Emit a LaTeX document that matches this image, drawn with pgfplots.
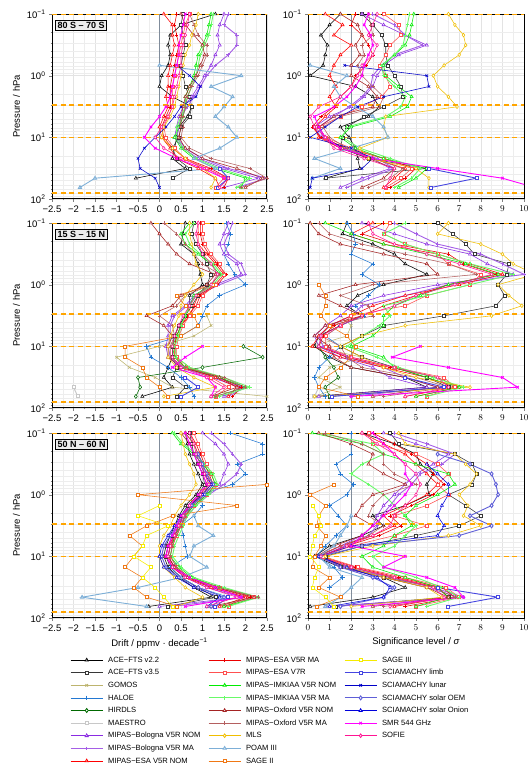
\documentclass[border=0pt]{standalone}
\usepackage{fontspec}
\setmainfont{Liberation Sans}
\usepackage{pgfplots}
\usepackage{pgfplotstable}
\pgfplotsset{compat=1.18}

\definecolor{cAceB}{RGB}{55,55,55}
\definecolor{cGomos}{RGB}{189,180,110}
\definecolor{cHaloe}{RGB}{35,120,210}
\definecolor{cHirdls}{RGB}{0,105,0}
\definecolor{cMaestro}{RGB}{200,200,200}
\definecolor{cBolN}{RGB}{138,43,226}
\definecolor{cBolM}{RGB}{165,95,230}
\definecolor{cEsaN}{RGB}{255,0,0}
\definecolor{cEsaM}{RGB}{235,0,0}
\definecolor{cEsa7}{RGB}{255,80,80}
\definecolor{cImkN}{RGB}{0,235,0}
\definecolor{cImkM}{RGB}{105,250,105}
\definecolor{cOxN}{RGB}{165,35,35}
\definecolor{cOxM}{RGB}{180,95,95}
\definecolor{cMls}{RGB}{240,190,0}
\definecolor{cPoam}{RGB}{125,175,215}
\definecolor{cSage2}{RGB}{240,120,20}
\definecolor{cSage3}{RGB}{245,235,0}
\definecolor{cLimb}{RGB}{70,70,225}
\definecolor{cLunar}{RGB}{0,0,200}
\definecolor{cOem}{RGB}{95,95,215}
\definecolor{cOnion}{RGB}{0,0,220}
\definecolor{cSmr}{RGB}{255,0,255}
\definecolor{cSofie}{RGB}{255,20,147}
\definecolor{cRef}{RGB}{255,165,0}
\definecolor{cZero}{RGB}{128,140,155}

% pressure levels (hPa) in the header, one row per data set
\pgfplotstableread{
name  0.1 0.15 0.22 0.32 0.46 0.68 1.0 1.5 2.2 3.2 4.6 6.8 10 15 22 32 46 65
ace22 1.3 0.5 0.25 0.2 0.25 0.2 0.05 0.0 0.3 0.75 0.65 0.45 0.4 0.35 0.3 0.6 -0.55 nan
ace35 0.55 0.5 0.55 0.6 0.55 0.5 0.55 0.6 0.7 0.75 0.7 0.5 0.45 0.3 0.4 0.7 0.3 nan
boln  1.5 1.4 1.35 1.4 1.3 1.2 1.05 0.9 0.75 0.55 0.45 0.4 0.35 0.55 0.9 1.5 2.3 1.5
bolm  1.6 1.5 1.8 1.8 1.6 1.3 1.1 0.95 0.8 0.65 0.5 0.45 0.4 0.6 1.0 1.6 2.5 1.8
esan  0.1 0.3 0.3 0.35 0.3 0.25 0.2 0.2 0.15 0.2 0.1 0.0 0.05 0.25 0.4 0.9 1.3 1.4
esam  0.4 0.35 0.4 0.45 0.4 0.35 0.3 0.25 0.25 0.25 0.15 0.05 0.1 0.3 0.6 1.2 1.6 1.5
esa7  0.7 0.6 0.55 0.5 0.45 0.4 0.35 0.3 0.3 0.3 0.2 0.1 0.15 0.35 0.6 1.1 1.5 1.3
imkn  1.2 1.15 1.1 1.0 0.9 0.85 0.8 0.7 0.6 0.6 0.55 0.45 0.35 0.5 0.8 1.3 2.0 1.9
imkm  1.25 1.2 1.15 1.05 0.95 0.9 0.85 0.75 0.65 0.6 0.5 0.4 0.4 0.55 0.85 1.4 2.1 1.8
oxn   0.5 0.6 0.8 1.0 1.05 0.95 0.85 0.7 0.6 0.55 0.5 0.5 0.45 0.6 1.0 1.8 2.4 2.0
oxm   0.7 0.8 0.9 1.1 1.1 1.0 0.9 0.75 0.65 0.6 0.55 0.55 0.5 0.7 1.2 2.1 2.5 1.9
mls   0.9 0.85 0.75 0.7 0.6 0.55 0.5 0.45 0.4 0.35 0.25 0.1 0.05 0.3 0.6 1.0 1.3 1.2
poam  nan nan nan nan nan 0.0 1.9 1.2 1.7 1.5 1.3 1.6 1.8 1.4 0.8 1.3 -1.5 -1.85
limb  nan nan nan nan nan nan nan nan nan nan nan nan nan nan nan 1.4 1.6 1.35
lunar nan nan nan nan nan 0.4 0.7 0.95 0.85 0.5 0.35 0.15 -0.1 -0.35 -0.5 -0.45 -0.1 0.0
smr   0.6 0.55 0.5 0.45 0.45 0.4 0.35 0.3 0.25 0.15 0.0 -0.2 -0.35 -0.1 0.4 1.0 1.5 nan
sofie 0.7 0.65 0.6 0.55 0.5 0.5 0.45 0.4 0.35 0.3 0.2 0.05 -0.1 0.1 0.5 1.1 1.6 1.4
}\rawA

\pgfplotstableread{
name  0.1 0.15 0.22 0.32 0.46 0.68 1.0 1.5 2.2 3.2 4.6 6.8 10 15 22 32 46 65
ace22 1.5 1.0 0.6 0.9 0.8 0.7 0.1 2.2 3.0 3.3 2.8 1.5 1.9 2.2 2.3 2.4 0.8 nan
ace35 2.5 3.0 3.4 3.6 3.6 3.7 4.0 4.3 4.4 3.5 2.6 1.8 1.6 1.5 2.8 5.5 0.8 nan
boln  2.5 3.5 4.5 5.5 4.2 3.5 3.2 3.0 2.6 2.0 1.0 0.3 0.6 1.5 3.0 3.8 2.5 1.5
bolm  3.0 4.0 4.5 5.3 4.0 3.4 3.0 2.9 2.5 1.9 1.2 0.5 0.7 1.6 3.2 4.0 2.8 1.8
esan  0.8 1.6 1.2 2.0 1.5 1.2 1.0 1.3 1.0 1.3 0.8 0.3 0.5 1.5 3.0 4.5 4.0 3.5
esam  2.2 2.0 2.5 2.8 3.0 2.7 2.2 2.0 1.5 1.2 0.6 0.2 0.6 1.8 3.5 5.0 4.5 3.8
esa7  3.5 4.2 4.3 3.8 3.6 3.3 3.6 3.8 3.4 2.5 1.5 0.5 0.8 2.0 3.5 4.8 4.3 3.6
imkn  4.9 4.8 4.7 4.5 4.0 3.5 3.6 4.2 4.8 4.6 3.8 2.0 1.5 2.2 3.5 5.5 5.0 4.2
imkm  4.7 4.6 4.5 4.4 4.0 3.4 3.5 4.0 4.5 4.3 3.6 1.8 1.6 2.4 3.8 5.2 4.8 4.0
oxn   1.5 2.3 2.5 2.2 2.4 2.0 2.0 2.8 3.2 3.0 1.2 0.5 0.8 1.6 2.8 4.0 3.5 2.5
oxm   2.8 2.9 3.0 2.5 2.6 2.3 2.5 3.0 3.5 3.3 1.5 0.7 1.0 1.8 3.0 4.4 3.8 2.8
mls   6.5 6.8 7.2 7.3 7.0 6.3 5.8 6.0 6.5 6.9 3.6 3.5 3.7 2.4 2.8 5.0 5.6 5.6
poam  nan nan nan nan nan 0.1 1.8 1.2 1.5 2.2 3.0 3.5 3.7 2.0 0.3 1.5 0.2 nan
limb  nan nan nan nan nan nan nan nan nan nan nan nan nan nan nan 5.6 7.8 5.7
lunar nan nan nan nan nan 1.7 5.5 5.6 3.5 2.3 1.5 0.8 0.1 2.0 3.0 2.5 0.2 0.1
smr   2.8 2.6 2.9 3.0 2.8 2.6 2.5 2.2 1.8 1.2 0.3 0.5 0.8 1.5 3.0 6.0 9.0 10.5
sofie 3.2 3.0 2.8 3.2 3.0 2.5 2.3 2.0 1.5 0.5 0.1 0.3 0.8 1.2 2.6 4.0 3.8 3.6
}\rawB

\pgfplotstableread{
name  0.1 0.15 0.22 0.32 0.46 0.68 1.0 1.5 2.2 3.2 4.6 6.8 10 15 22 32 46 65
ace22 0.6 0.55 0.5 0.8 0.9 0.95 1.0 0.7 0.7 0.6 0.45 0.35 0.3 0.3 0.2 0.1 0.3 -0.4
ace35 0.8 0.75 0.85 1.0 1.1 1.2 1.1 0.9 0.75 0.6 0.45 0.35 0.3 0.3 0.4 0.3 0.6 0.4
gomos nan nan nan nan nan nan nan nan nan 1.1 1.2 0.8 0.0 -1.0 -0.7 -0.1 0.3 2.5
haloe 1.55 1.65 1.6 1.5 1.6 1.75 2.0 1.4 1.1 1.0 0.9 0.5 -0.3 -0.2 0.2 0.5 0.7 0.8
hirdls nan nan nan nan nan nan nan nan nan nan nan nan 1.95 2.4 1.0 -0.5 -0.45 -0.55
maestro nan nan nan nan nan nan nan nan nan nan nan nan nan nan nan nan -2.0 -1.9
boln  1.6 1.5 1.4 1.5 1.8 1.9 1.3 0.8 0.6 0.3 0.2 0.2 0.15 0.2 0.5 1.2 1.9 1.5
bolm  1.7 1.6 1.5 1.6 1.9 2.0 1.4 0.85 0.65 0.35 0.25 0.25 0.2 0.25 0.55 1.3 2.0 1.6
esan  0.9 0.9 0.9 1.1 1.3 1.5 1.3 0.9 0.8 0.7 0.5 0.4 0.35 0.35 0.6 1.3 1.8 1.6
esam  0.95 0.95 1.0 1.15 1.35 1.55 1.35 0.95 0.85 0.65 0.5 0.4 0.35 0.4 0.7 1.4 1.9 1.7
esa7  1.0 1.0 1.05 1.2 1.4 1.5 1.3 1.0 0.9 0.7 0.55 0.45 0.4 0.4 0.6 1.2 1.6 1.3
imkn  0.7 0.5 0.6 0.9 1.2 1.4 1.2 0.8 0.7 0.6 0.5 0.4 0.3 0.35 0.6 1.4 2.0 1.3
imkm  0.8 0.6 0.7 0.95 1.25 1.45 1.25 0.85 0.7 0.6 0.5 0.45 0.35 0.4 0.7 1.5 2.1 1.4
oxn   -0.2 0.0 0.2 0.4 0.7 1.3 1.1 0.5 0.3 -0.3 0.1 0.3 0.2 0.2 0.5 1.4 1.8 1.2
oxm   0.1 0.4 0.6 0.8 1.0 1.4 1.2 0.6 0.4 0.0 0.3 0.35 0.25 0.25 0.6 1.5 2.0 1.3
mls   0.7 0.7 0.75 0.8 0.85 1.0 0.8 0.6 0.5 0.45 0.35 0.25 0.2 0.2 0.4 0.8 1.3 0.1
sage2 nan nan nan nan nan nan 1.25 0.4 0.6 0.8 0.9 0.5 -0.8 -0.8 -0.4 -0.3 0.0 0.2
limb  nan nan nan nan nan nan nan nan nan nan nan nan nan nan nan 0.6 0.9 0.5
smr   nan nan nan nan nan nan nan nan nan nan nan nan 1.0 0.6 0.3 1.1 1.3 1.2
sofie 0.9 0.85 0.9 1.0 1.2 1.35 1.2 0.85 0.7 0.55 0.45 0.35 0.3 0.3 0.5 1.1 1.5 1.2
}\rawC

\pgfplotstableread{
name  0.1 0.15 0.22 0.32 0.46 0.68 1.0 1.5 2.2 3.2 4.6 6.8 10 15 22 32 46 65
ace22 1.8 1.6 3.0 4.0 4.5 5.5 3.5 2.3 1.8 2.5 1.5 0.5 0.3 1.0 2.0 4.5 5.5 0.3
ace35 6.0 6.7 7.3 7.7 9.3 9.2 8.8 9.1 8.7 6.3 3.5 2.5 1.5 2.5 4.0 5.5 6.5 1.0
gomos nan nan nan nan nan nan nan nan nan 1.5 2.0 1.8 0.2 2.5 1.0 0.5 1.5 0.3
haloe 1.8 2.1 2.2 2.0 3.0 2.5 3.3 2.8 2.2 2.6 1.5 0.8 1.5 1.0 0.5 0.3 0.5 0.8
hirdls nan nan nan nan nan nan nan nan nan nan nan nan 0.5 0.8 1.2 1.4 0.8 1.0
maestro nan nan nan nan nan nan nan nan nan nan nan nan nan nan nan nan 0.5 0.3
boln  2.5 4.0 5.5 7.5 8.3 9.5 6.0 3.5 2.0 1.5 0.8 0.3 0.5 1.5 3.0 3.8 5.5 0.5
bolm  4.0 5.0 6.0 8.0 9.0 10.0 6.5 4.5 2.5 2.0 1.0 0.5 0.7 1.8 3.5 4.5 6.0 2.0
esan  3.0 2.0 3.5 6.0 7.5 9.0 7.0 4.5 3.0 2.0 1.0 0.5 0.2 1.5 3.5 5.5 6.8 4.5
esam  3.5 2.5 4.0 6.5 7.2 8.7 6.5 5.0 3.5 2.5 1.2 0.7 0.5 1.8 3.8 6.0 7.0 5.0
esa7  3.8 3.5 4.5 6.0 6.5 8.0 7.5 5.5 4.5 2.0 1.5 0.8 0.8 2.0 4.0 6.3 6.8 5.5
imkn  0.8 2.0 3.5 5.5 7.3 8.8 6.5 5.2 4.0 3.5 3.5 3.0 2.0 3.5 4.0 5.5 7.0 5.0
imkm  4.5 3.5 4.5 6.0 7.5 9.5 7.5 5.5 3.5 3.8 3.3 2.5 1.8 3.2 4.2 5.8 7.2 5.5
oxn   0.1 0.5 1.5 3.5 5.5 6.0 2.2 0.5 1.5 2.5 0.8 0.3 1.0 1.2 2.0 4.5 6.0 3.0
oxm   0.5 1.0 2.5 4.5 6.5 7.8 3.0 1.5 2.8 3.0 1.0 0.6 1.5 1.8 2.5 5.0 6.5 3.5
mls   6.5 6.0 8.0 9.0 9.5 10.5 8.8 9.3 9.9 8.5 4.5 2.5 1.5 2.5 3.5 5.0 7.5 0.3
sage2 nan nan nan nan nan nan 0.5 0.8 0.8 0.6 1.0 1.8 2.2 2.0 1.5 0.8 0.5 2.3
limb  nan nan nan nan nan nan nan nan nan nan nan nan nan nan nan 4.5 6.3 1.1
smr   nan nan nan nan nan nan nan nan nan nan nan nan 5.2 3.9 6.5 9.0 9.7 2.0
sofie 2.8 3.0 4.0 5.5 7.0 8.5 6.8 5.0 4.0 2.5 1.5 0.6 0.5 2.0 4.0 6.0 6.5 4.5
}\rawD

\pgfplotstableread{
name  0.1 0.15 0.22 0.32 0.46 0.68 1.0 1.5 2.2 3.2 4.6 6.8 10 15 22 32 46 65
ace22 0.6 0.65 0.7 0.8 0.9 1.0 0.85 0.6 0.45 0.35 0.25 0.15 0.1 0.2 0.45 0.8 1.2 -0.25
ace35 0.7 0.75 0.8 0.9 1.0 1.05 0.9 0.65 0.5 0.4 0.3 0.2 0.15 0.25 0.5 0.9 1.3 0.2
haloe 1.65 2.4 2.4 1.8 2.0 1.7 0.95 1.0 0.8 0.5 0.55 0.6 0.65 0.25 0.5 0.9 1.6 nan
boln  1.0 1.3 1.5 1.6 1.5 1.4 1.1 0.8 0.6 0.45 0.3 0.2 0.15 0.3 0.6 1.1 1.9 0.0
bolm  1.2 1.5 1.7 1.9 1.8 1.5 1.15 0.85 0.65 0.5 0.35 0.25 0.2 0.35 0.7 1.2 2.0 0.3
esan  0.6 0.8 0.9 1.0 1.1 1.2 1.0 0.7 0.55 0.45 0.35 0.2 0.15 0.3 0.6 1.2 2.0 1.4
esam  0.7 0.85 0.95 1.05 1.15 1.25 1.05 0.75 0.6 0.5 0.4 0.25 0.2 0.35 0.65 1.3 2.1 1.5
esa7  0.8 0.9 1.0 1.1 1.2 1.3 1.1 0.8 0.6 0.5 0.4 0.3 0.25 0.4 0.7 1.4 2.2 1.6
imkn  0.3 0.5 0.8 1.0 1.2 1.3 1.1 0.8 0.6 0.5 0.35 0.3 0.25 0.45 0.75 1.4 2.3 1.5
imkm  0.35 0.55 0.85 1.05 1.25 1.35 1.15 0.85 0.65 0.55 0.45 0.35 0.3 0.5 0.8 1.5 2.3 1.6
oxn   0.5 0.7 0.8 0.9 1.0 1.1 0.95 0.7 0.55 0.45 0.35 0.25 0.2 0.35 0.65 1.3 2.2 1.2
oxm   0.6 0.8 0.9 1.0 1.05 1.15 1.0 0.75 0.6 0.5 0.4 0.3 0.25 0.4 0.7 1.4 2.3 1.3
mls   0.5 0.55 0.6 0.7 0.8 0.85 0.7 0.5 0.35 0.25 0.1 0.0 0.0 0.1 0.35 0.6 1.0 0.4
poam  nan nan nan nan nan nan nan nan 0.8 0.9 1.25 0.8 0.7 1.1 0.5 -0.5 -1.8 -0.3
sage2 nan nan nan nan nan 2.5 -0.5 1.8 0.3 -0.3 -0.7 -0.4 -0.6 -0.8 -0.4 -0.6 -0.3 0.4
sage3 nan nan nan nan nan nan nan 0.0 -0.5 0.2 -0.3 -0.4 -0.6 -0.2 -0.4 -0.1 0.1 0.3
limb  nan nan nan nan nan nan nan nan nan nan nan nan nan nan nan nan 1.6 1.3
oem   nan nan 0.9 1.0 1.1 1.25 1.05 0.75 0.55 0.4 0.25 0.1 0.05 0.15 0.45 0.9 1.5 1.2
onion nan nan 0.85 0.95 1.05 1.2 1.0 0.7 0.5 0.35 0.2 0.05 0.0 0.1 0.4 0.8 1.4 1.1
smr   0.6 0.7 0.8 0.9 1.0 1.1 0.9 0.7 0.5 0.4 0.3 0.2 0.15 0.3 0.7 1.3 1.9 0.6
sofie 0.7 0.8 0.85 0.95 1.05 1.15 0.95 0.7 0.55 0.45 0.35 0.25 0.2 0.3 0.6 1.1 1.8 1.1
}\rawE

\pgfplotstableread{
name  0.1 0.15 0.22 0.32 0.46 0.68 1.0 1.5 2.2 3.2 4.6 6.8 10 15 22 32 46 65
ace22 2.5 4.0 5.0 5.2 5.8 5.5 5.6 4.5 3.0 3.5 2.5 1.0 0.3 1.5 3.5 4.5 3.0 0.1
ace35 3.8 4.2 6.8 7.6 7.8 7.6 6.5 7.3 8.0 7.0 5.0 2.5 0.8 1.5 3.5 6.0 6.5 1.3
haloe 2.0 2.0 2.0 1.3 1.5 2.1 1.8 1.0 1.4 1.8 1.3 0.8 0.4 1.2 1.6 1.0 nan nan
boln  3.5 5.0 6.5 5.8 5.0 4.5 4.0 3.5 3.2 3.0 2.5 1.5 0.5 1.5 3.5 5.5 7.0 0.8
bolm  4.0 5.5 6.8 6.2 5.2 4.8 4.2 3.8 3.4 3.2 2.8 1.7 0.6 1.7 3.8 5.8 7.2 1.2
esan  2.5 3.5 4.5 5.0 5.5 6.0 5.5 4.5 3.5 4.0 3.0 1.5 0.4 2.0 4.0 6.0 6.5 4.0
esam  3.0 4.0 4.8 5.5 5.8 6.3 5.8 4.8 3.8 4.3 3.3 1.8 0.6 2.2 4.2 6.2 6.8 4.5
esa7  2.8 3.0 5.0 6.0 6.5 6.0 6.5 5.5 4.0 5.5 4.0 2.0 0.7 2.3 4.5 6.4 7.0 5.0
imkn  0.2 2.5 3.5 5.0 6.5 6.8 6.0 5.0 4.5 4.8 4.0 3.5 2.5 3.0 4.5 6.0 6.5 5.0
imkm  0.5 3.0 3.5 2.5 2.0 2.8 3.5 4.0 4.5 5.0 4.5 4.0 3.0 3.5 5.0 6.2 7.0 5.5
oxn   0.5 2.0 3.0 2.8 3.5 4.5 3.0 2.5 2.2 3.0 2.5 1.2 0.4 1.8 3.5 5.5 6.5 3.0
oxm   0.8 2.5 3.5 3.5 4.0 5.0 3.5 3.0 2.8 3.5 2.8 1.5 0.5 2.0 3.8 5.8 6.8 3.5
mls   4.2 4.5 6.8 7.3 7.8 7.5 7.0 7.4 7.2 8.0 6.5 3.0 0.8 1.8 3.5 5.5 6.2 2.0
poam  nan nan nan nan nan nan nan nan 2.0 1.8 1.5 1.2 0.5 1.0 2.5 2.0 1.5 0.8
sage2 nan nan nan nan nan 1.2 0.1 0.8 0.5 0.4 0.8 0.6 0.3 0.2 1.0 0.5 1.5 0.4
sage3 nan nan nan nan nan nan nan 0.2 0.5 0.6 0.3 0.2 0.1 0.5 0.3 0.2 0.8 1.2
limb  nan nan nan nan nan nan nan nan nan nan nan nan nan nan nan 6.0 8.8 6.5
oem   nan nan 6.0 7.5 8.5 8.7 8.8 8.5 7.5 8.5 7.0 2.5 0.6 1.5 3.0 4.0 3.5 1.5
onion nan nan nan 5.5 6.0 6.5 6.5 6.2 6.0 6.3 6.0 2.0 0.5 1.8 3.2 3.8 3.5 1.0
smr   3.0 3.5 4.0 4.5 4.5 4.8 4.5 4.0 3.5 3.0 2.5 2.0 4.5 3.5 5.5 6.8 7.2 2.5
sofie 2.5 3.2 4.0 4.5 5.0 5.2 5.0 4.5 4.0 3.8 3.0 1.8 0.6 2.0 4.0 5.8 6.3 3.8
}\rawF

\pgfplotstabletranspose[colnames from=name,input colnames to=p]\tabA{\rawA}
\pgfplotstabletranspose[colnames from=name,input colnames to=p]\tabB{\rawB}
\pgfplotstabletranspose[colnames from=name,input colnames to=p]\tabC{\rawC}
\pgfplotstabletranspose[colnames from=name,input colnames to=p]\tabD{\rawD}
\pgfplotstabletranspose[colnames from=name,input colnames to=p]\tabE{\rawE}
\pgfplotstabletranspose[colnames from=name,input colnames to=p]\tabF{\rawF}

\newcommand{\tickfont}{\fontsize{9.5}{11}\selectfont}
\newcommand{\mn}{−}

\pgfplotsset{
  sace22/.style={color=black, mark=triangle*},
  sace35/.style={color=cAceB, mark=square*, mark size=1.5pt},
  sgomos/.style={color=cGomos, mark=x},
  shaloe/.style={color=cHaloe, mark=+, mark size=2.2pt},
  shirdls/.style={color=cHirdls, mark=diamond*, mark size=2pt},
  smaestro/.style={color=cMaestro, mark=square*, mark size=1.5pt, line width=1pt},
  sboln/.style={color=cBolN, mark=triangle*},
  sbolm/.style={color=cBolM, mark=+, line width=0.9pt},
  sesan/.style={color=cEsaN, mark=triangle*},
  sesam/.style={color=cEsaM, mark=+},
  sesa7/.style={color=cEsa7, mark=square*, mark size=1.5pt},
  simkn/.style={color=cImkN, mark=triangle*},
  simkm/.style={color=cImkM, mark=+, line width=0.9pt},
  soxn/.style={color=cOxN, mark=triangle*},
  soxm/.style={color=cOxM, mark=+},
  smls/.style={color=cMls, mark=diamond*},
  spoam/.style={color=cPoam, mark=triangle*, line width=0.9pt},
  ssage2/.style={color=cSage2, mark=square*, mark size=1.5pt},
  ssage3/.style={color=cSage3, mark=square*, mark size=1.5pt},
  slimb/.style={color=cLimb, mark=square*, mark size=1.5pt, line width=0.9pt},
  slunar/.style={color=cLunar, mark=x},
  soem/.style={color=cOem, mark=diamond*, mark size=2pt, line width=0.9pt},
  sonion/.style={color=cOnion, mark=triangle*},
  ssmr/.style={color=cSmr, mark=x, line width=0.9pt},
  ssofie/.style={color=cSofie, mark=diamond*},
}

\newcommand{\reflines}[2]{%
  \addplot[forget plot, cRef, line width=1.2pt, dash pattern=on 5pt off 3.5pt] coordinates {(#1,0.1) (#2,0.1)};
  \addplot[forget plot, cRef, line width=1.2pt, dash pattern=on 5pt off 3.5pt] coordinates {(#1,3) (#2,3)};
  \addplot[forget plot, cRef, line width=1.2pt, dash pattern=on 5pt off 3.5pt] coordinates {(#1,10) (#2,10)};
  \addplot[forget plot, cRef, line width=1.2pt, dash pattern=on 5pt off 3.5pt] coordinates {(#1,80) (#2,80)};
}

\begin{document}
\begin{tikzpicture}
\useasboundingbox (0,0) rectangle (529pt,-774pt);

% row 1: 80 S - 70 S
\begin{axis}[scale only axis, width=215pt, height=185pt, anchor=north west, at={(52pt,-14pt)},
    ymode=log, y dir=reverse, ymin=0.1, ymax=100, ytick={0.1,1,10,100},
    yticklabels={10\textsuperscript{\mn1},10\textsuperscript{0},10\textsuperscript{1},10\textsuperscript{2}},
    xmin=-2.5, xmax=2.5, xtick={-2.5,-2,-1.5,-1,-0.5,0,0.5,1,1.5,2,2.5},
    xticklabels={\mn2.5,\mn2,\mn1.5,\mn1,\mn0.5,0,0.5,1,1.5,2,2.5}, minor x tick num=1,
    grid=both, major grid style={gray!22}, minor grid style={gray!14},
    axis line style={line width=1pt}, tick align=outside, xtick pos=bottom, ytick pos=left,
    major tick length=3pt, minor tick length=1.5pt,
    ticklabel style={font=\tickfont}, ylabel style={font=\tickfont},
    every axis plot/.append style={line width=0.55pt, mark size=1.8pt, mark options={solid, fill=white}},
    ylabel={Pressure / hPa}]
\addplot[forget plot, cZero, line width=1pt] coordinates {(0,0.1) (0,100)};
\pgfplotsinvokeforeach{ace22,ace35,boln,bolm,esan,esam,esa7,imkn,imkm,oxn,oxm,mls,poam,limb,lunar,smr,sofie}{
  \addplot[s#1] table[x=#1,y=p]{\tabA};
}
\reflines{-2.5}{2.5}
\node[draw=black, line width=0.8pt, fill=gray!15, anchor=north west, font=\bfseries\fontsize{9}{10}\selectfont, inner sep=2pt] at (rel axis cs:0.015,0.97) {80 S – 70 S};
\end{axis}

\begin{axis}[scale only axis, width=216pt, height=185pt, anchor=north west, at={(308pt,-14pt)},
    ymode=log, y dir=reverse, ymin=0.1, ymax=100, ytick={0.1,1,10,100},
    yticklabels={10\textsuperscript{\mn1},10\textsuperscript{0},10\textsuperscript{1},10\textsuperscript{2}},
    xmin=0, xmax=10, xtick={0,1,2,3,4,5,6,7,8,9,10}, minor x tick num=1,
    grid=both, major grid style={gray!22}, minor grid style={gray!14},
    axis line style={line width=1pt}, tick align=outside, xtick pos=bottom, ytick pos=left,
    major tick length=3pt, minor tick length=1.5pt,
    ticklabel style={font=\tickfont},
    every axis plot/.append style={line width=0.55pt, mark size=1.8pt, mark options={solid, fill=white}}]
\addplot[forget plot, cZero, line width=1pt] coordinates {(2,0.1) (2,100)};
\pgfplotsinvokeforeach{ace22,ace35,boln,bolm,esan,esam,esa7,imkn,imkm,oxn,oxm,mls,poam,limb,lunar,smr,sofie}{
  \addplot[s#1] table[x=#1,y=p]{\tabB};
}
\reflines{0}{10}
\end{axis}

% row 2: 15 S - 15 N
\begin{axis}[scale only axis, width=215pt, height=185pt, anchor=north west, at={(52pt,-223pt)},
    ymode=log, y dir=reverse, ymin=0.1, ymax=100, ytick={0.1,1,10,100},
    yticklabels={10\textsuperscript{\mn1},10\textsuperscript{0},10\textsuperscript{1},10\textsuperscript{2}},
    xmin=-2.5, xmax=2.5, xtick={-2.5,-2,-1.5,-1,-0.5,0,0.5,1,1.5,2,2.5},
    xticklabels={\mn2.5,\mn2,\mn1.5,\mn1,\mn0.5,0,0.5,1,1.5,2,2.5}, minor x tick num=1,
    grid=both, major grid style={gray!22}, minor grid style={gray!14},
    axis line style={line width=1pt}, tick align=outside, xtick pos=bottom, ytick pos=left,
    major tick length=3pt, minor tick length=1.5pt,
    ticklabel style={font=\tickfont}, ylabel style={font=\tickfont},
    every axis plot/.append style={line width=0.55pt, mark size=1.8pt, mark options={solid, fill=white}},
    ylabel={Pressure / hPa}]
\addplot[forget plot, cZero, line width=1pt] coordinates {(0,0.1) (0,100)};
\pgfplotsinvokeforeach{ace22,ace35,gomos,haloe,hirdls,maestro,boln,bolm,esan,esam,esa7,imkn,imkm,oxn,oxm,mls,sage2,limb,smr,sofie}{
  \addplot[s#1] table[x=#1,y=p]{\tabC};
}
\reflines{-2.5}{2.5}
\node[draw=black, line width=0.8pt, fill=gray!15, anchor=north west, font=\bfseries\fontsize{9}{10}\selectfont, inner sep=2pt] at (rel axis cs:0.015,0.97) {15 S – 15 N};
\end{axis}

\begin{axis}[scale only axis, width=216pt, height=185pt, anchor=north west, at={(308pt,-223pt)},
    ymode=log, y dir=reverse, ymin=0.1, ymax=100, ytick={0.1,1,10,100},
    yticklabels={10\textsuperscript{\mn1},10\textsuperscript{0},10\textsuperscript{1},10\textsuperscript{2}},
    xmin=0, xmax=10, xtick={0,1,2,3,4,5,6,7,8,9,10}, minor x tick num=1,
    grid=both, major grid style={gray!22}, minor grid style={gray!14},
    axis line style={line width=1pt}, tick align=outside, xtick pos=bottom, ytick pos=left,
    major tick length=3pt, minor tick length=1.5pt,
    ticklabel style={font=\tickfont},
    every axis plot/.append style={line width=0.55pt, mark size=1.8pt, mark options={solid, fill=white}}]
\addplot[forget plot, cZero, line width=1pt] coordinates {(2,0.1) (2,100)};
\pgfplotsinvokeforeach{ace22,ace35,gomos,haloe,hirdls,maestro,boln,bolm,esan,esam,esa7,imkn,imkm,oxn,oxm,mls,sage2,limb,smr,sofie}{
  \addplot[s#1] table[x=#1,y=p]{\tabD};
}
\reflines{0}{10}
\end{axis}

% row 3: 50 N - 60 N
\begin{axis}[scale only axis, width=215pt, height=185pt, anchor=north west, at={(52pt,-433pt)},
    ymode=log, y dir=reverse, ymin=0.1, ymax=100, ytick={0.1,1,10,100},
    yticklabels={10\textsuperscript{\mn1},10\textsuperscript{0},10\textsuperscript{1},10\textsuperscript{2}},
    xmin=-2.5, xmax=2.5, xtick={-2.5,-2,-1.5,-1,-0.5,0,0.5,1,1.5,2,2.5},
    xticklabels={\mn2.5,\mn2,\mn1.5,\mn1,\mn0.5,0,0.5,1,1.5,2,2.5}, minor x tick num=1,
    grid=both, major grid style={gray!22}, minor grid style={gray!14},
    axis line style={line width=1pt}, tick align=outside, xtick pos=bottom, ytick pos=left,
    major tick length=3pt, minor tick length=1.5pt,
    ticklabel style={font=\tickfont}, ylabel style={font=\tickfont}, xlabel style={font=\tickfont},
    every axis plot/.append style={line width=0.55pt, mark size=1.8pt, mark options={solid, fill=white}},
    ylabel={Pressure / hPa}, xlabel={Drift / ppmv · decade\textsuperscript{\mn1}}]
\addplot[forget plot, cZero, line width=1pt] coordinates {(0,0.1) (0,100)};
\pgfplotsinvokeforeach{ace22,ace35,haloe,boln,bolm,esan,esam,esa7,imkn,imkm,oxn,oxm,mls,poam,sage2,sage3,limb,oem,onion,smr,sofie}{
  \addplot[s#1] table[x=#1,y=p]{\tabE};
}
\reflines{-2.5}{2.5}
\node[draw=black, line width=0.8pt, fill=gray!15, anchor=north west, font=\bfseries\fontsize{9}{10}\selectfont, inner sep=2pt] at (rel axis cs:0.015,0.97) {50 N – 60 N};
\end{axis}

\begin{axis}[scale only axis, width=216pt, height=185pt, anchor=north west, at={(308pt,-433pt)},
    ymode=log, y dir=reverse, ymin=0.1, ymax=100, ytick={0.1,1,10,100},
    yticklabels={10\textsuperscript{\mn1},10\textsuperscript{0},10\textsuperscript{1},10\textsuperscript{2}},
    xmin=0, xmax=10, xtick={0,1,2,3,4,5,6,7,8,9,10}, minor x tick num=1,
    grid=both, major grid style={gray!22}, minor grid style={gray!14},
    axis line style={line width=1pt}, tick align=outside, xtick pos=bottom, ytick pos=left,
    major tick length=3pt, minor tick length=1.5pt,
    ticklabel style={font=\tickfont}, xlabel style={font=\tickfont},
    every axis plot/.append style={line width=0.55pt, mark size=1.8pt, mark options={solid, fill=white}},
    xlabel={Significance level / \textit{σ}}]
\addplot[forget plot, cZero, line width=1pt] coordinates {(2,0.1) (2,100)};
\pgfplotsinvokeforeach{ace22,ace35,haloe,boln,bolm,esan,esam,esa7,imkn,imkm,oxn,oxm,mls,poam,sage2,sage3,limb,oem,onion,smr,sofie}{
  \addplot[s#1] table[x=#1,y=p]{\tabF};
}
\reflines{0}{10}
\end{axis}

% legend, three columns
\begin{axis}[hide axis, scale only axis, width=10pt, height=10pt, anchor=north west, at={(70pt,-656pt)},
    xmin=0, xmax=1, ymin=0, ymax=1,
    every axis plot/.append style={line width=0.8pt, mark size=1.8pt, mark options={solid, fill=white}},
    legend image code/.code={\draw[mark repeat=2,mark phase=2] plot coordinates {(0pt,0pt) (16pt,0pt) (32pt,0pt)};},
    legend style={at={(0,1)}, anchor=north west, draw=none, fill=none,
      font=\fontsize{7.6}{9}\selectfont, inner sep=0pt, row sep=4.8pt, column sep=5pt,
      nodes={inner sep=0pt, text height=6pt, text depth=1.8pt}},
    legend cell align=left]
\addlegendimage{sace22}\addlegendentry{ACE\mn FTS v2.2}
\addlegendimage{sace35}\addlegendentry{ACE\mn FTS v3.5}
\addlegendimage{sgomos}\addlegendentry{GOMOS}
\addlegendimage{shaloe}\addlegendentry{HALOE}
\addlegendimage{shirdls}\addlegendentry{HIRDLS}
\addlegendimage{smaestro}\addlegendentry{MAESTRO}
\addlegendimage{sboln}\addlegendentry{MIPAS\mn Bologna V5R NOM}
\addlegendimage{sbolm}\addlegendentry{MIPAS\mn Bologna V5R MA}
\addlegendimage{sesan}\addlegendentry{MIPAS\mn ESA V5R NOM}
\end{axis}
\begin{axis}[hide axis, scale only axis, width=10pt, height=10pt, anchor=north west, at={(208pt,-656pt)},
    xmin=0, xmax=1, ymin=0, ymax=1,
    every axis plot/.append style={line width=0.8pt, mark size=1.8pt, mark options={solid, fill=white}},
    legend image code/.code={\draw[mark repeat=2,mark phase=2] plot coordinates {(0pt,0pt) (16pt,0pt) (32pt,0pt)};},
    legend style={at={(0,1)}, anchor=north west, draw=none, fill=none,
      font=\fontsize{7.6}{9}\selectfont, inner sep=0pt, row sep=4.8pt, column sep=5pt,
      nodes={inner sep=0pt, text height=6pt, text depth=1.8pt}},
    legend cell align=left]
\addlegendimage{sesam}\addlegendentry{MIPAS\mn ESA V5R MA}
\addlegendimage{sesa7}\addlegendentry{MIPAS\mn ESA V7R}
\addlegendimage{simkn}\addlegendentry{MIPAS\mn IMKIAA V5R NOM}
\addlegendimage{simkm}\addlegendentry{MIPAS\mn IMKIAA V5R MA}
\addlegendimage{soxn}\addlegendentry{MIPAS\mn Oxford V5R NOM}
\addlegendimage{soxm}\addlegendentry{MIPAS\mn Oxford V5R MA}
\addlegendimage{smls}\addlegendentry{MLS}
\addlegendimage{spoam}\addlegendentry{POAM III}
\addlegendimage{ssage2}\addlegendentry{SAGE II}
\end{axis}
\begin{axis}[hide axis, scale only axis, width=10pt, height=10pt, anchor=north west, at={(344pt,-656pt)},
    xmin=0, xmax=1, ymin=0, ymax=1,
    every axis plot/.append style={line width=0.8pt, mark size=1.8pt, mark options={solid, fill=white}},
    legend image code/.code={\draw[mark repeat=2,mark phase=2] plot coordinates {(0pt,0pt) (16pt,0pt) (32pt,0pt)};},
    legend style={at={(0,1)}, anchor=north west, draw=none, fill=none,
      font=\fontsize{7.6}{9}\selectfont, inner sep=0pt, row sep=4.8pt, column sep=5pt,
      nodes={inner sep=0pt, text height=6pt, text depth=1.8pt}},
    legend cell align=left]
\addlegendimage{ssage3}\addlegendentry{SAGE III}
\addlegendimage{slimb}\addlegendentry{SCIAMACHY limb}
\addlegendimage{slunar}\addlegendentry{SCIAMACHY lunar}
\addlegendimage{soem}\addlegendentry{SCIAMACHY solar OEM}
\addlegendimage{sonion}\addlegendentry{SCIAMACHY solar Onion}
\addlegendimage{ssmr}\addlegendentry{SMR 544 GHz}
\addlegendimage{ssofie}\addlegendentry{SOFIE}
\end{axis}
\end{tikzpicture}
\end{document}
